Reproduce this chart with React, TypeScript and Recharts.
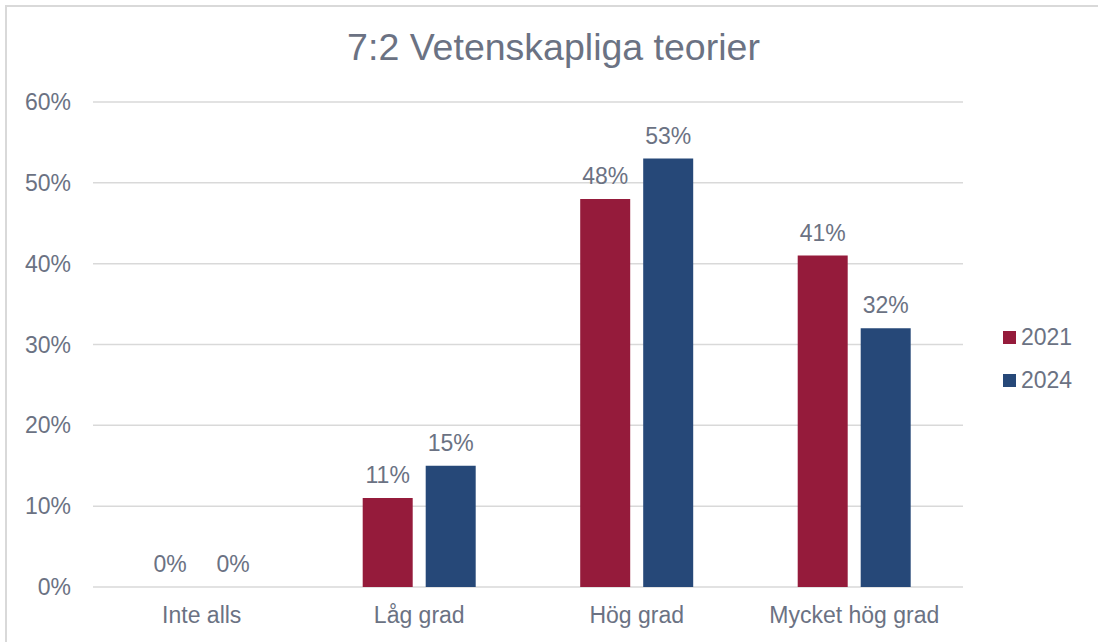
import React from "react";
import { BarChart, Bar, XAxis, YAxis, CartesianGrid, LabelList } from "recharts";

const categories = ["Inte alls", "Låg grad", "Hög grad", "Mycket hög grad"];
const values2021 = [0, 11, 48, 41];
const values2024 = [0, 15, 53, 32];
const yTicks = [0, 10, 20, 30, 40, 50, 60];
const seriesNames = ["2021", "2024"];
const seriesColors = ["#951B3B", "#264878"];
const title = "7:2 Vetenskapliga teorier";

const data = categories.map((c, i) => ({
  name: c,
  s2021: values2021[i],
  s2024: values2024[i],
}));

const FONT = '"Liberation Sans", Arial, sans-serif';
const TEXT = "#6B7283";
const GRID = "#D9D9D9";

const renderLabel = (props: any) => {
  const { x, y, width, value } = props;
  if (value == null) return null;
  return (
    <text
      x={Number(x) + Number(width) / 2}
      y={Number(y) - 15}
      textAnchor="middle"
      fill={TEXT}
      fontSize={23}
      fontFamily={FONT}
    >
      {`${value}%`}
    </text>
  );
};

export default function App() {
  const fmt = (v: any) => `${v}%`;
  return (
    <div
      style={{
        position: "absolute",
        left: 0,
        top: 0,
        width: 1098,
        height: 642,
        background: "#fff",
        fontFamily: FONT,
        overflow: "hidden",
      }}
    >
      <div
        style={{
          position: "absolute",
          left: 5,
          top: 5,
          width: 1093,
          height: 660,
          borderTop: `2px solid ${GRID}`,
          borderLeft: `2px solid ${GRID}`,
          boxSizing: "border-box",
        }}
      />
      <div
        style={{
          position: "absolute",
          left: 0,
          top: 29,
          width: 1107,
          textAlign: "center",
          fontSize: 37.5,
          lineHeight: "37px",
          color: TEXT,
          whiteSpace: "nowrap",
        }}
      >
        {title}
      </div>
      <div style={{ position: "absolute", left: 0, top: 0 }}>
        <BarChart
          width={1098}
          height={642}
          data={data}
          margin={{ top: 102, right: 135, bottom: 25, left: 0 }}
          barCategoryGap="24%"
          barGap={13}
        >
          <CartesianGrid vertical={false} stroke={GRID} strokeWidth={1.5} />
          <XAxis
            dataKey="name"
            axisLine={false}
            tickLine={false}
            tickSize={0}
            tickMargin={20}
            height={30}
            interval={0}
            tick={{ fill: TEXT, fontSize: 23, fontFamily: FONT }}
          />
          <YAxis
            domain={[0, 60]}
            ticks={yTicks}
            width={93}
            axisLine={false}
            tickLine={false}
            tickSize={0}
            tickMargin={22}
            tickFormatter={fmt}
            tick={{ fill: TEXT, fontSize: 23, fontFamily: FONT }}
          />
          <Bar
            dataKey="s2021"
            name={seriesNames[0]}
            fill={seriesColors[0]}
            minPointSize={0.001}
            isAnimationActive={false}
          >
            <LabelList dataKey="s2021" content={renderLabel} />
          </Bar>
          <Bar
            dataKey="s2024"
            name={seriesNames[1]}
            fill={seriesColors[1]}
            minPointSize={0.001}
            isAnimationActive={false}
          >
            <LabelList dataKey="s2024" content={renderLabel} />
          </Bar>
        </BarChart>
      </div>
      {seriesNames.map((name, i) => (
        <div
          key={name}
          style={{
            position: "absolute",
            left: 1003,
            top: 326 + i * 43,
            height: 23,
            display: "flex",
            alignItems: "center",
            color: TEXT,
            fontSize: 23,
            lineHeight: "23px",
          }}
        >
          <span
            style={{
              display: "inline-block",
              width: 13,
              height: 13,
              background: seriesColors[i],
              marginRight: 5,
            }}
          />
          <span>{name}</span>
        </div>
      ))}
    </div>
  );
}
